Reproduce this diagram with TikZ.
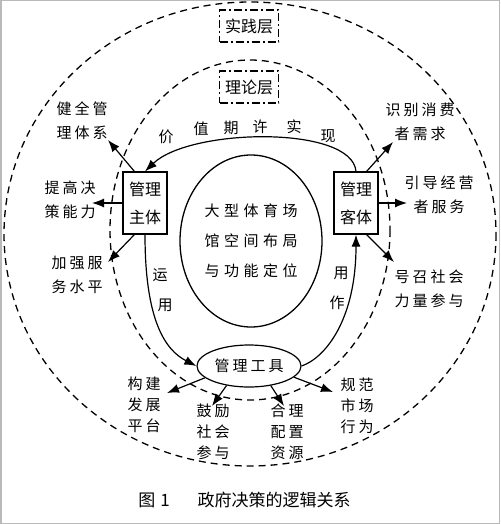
\documentclass[tikz,border=0pt]{standalone}
\usepackage{fontspec}
\newfontfamily\cjk{Noto Sans CJK SC}
\newfontfamily\cjkls[LetterSpace=20]{Noto Sans CJK SC}
\newfontfamily\cjkwide[LetterSpace=30]{Noto Sans CJK SC}
\usetikzlibrary{arrows.meta,calc,shapes.geometric}
\begin{document}
\begin{tikzpicture}[x=1pt,y=-1pt,
  lbl/.style={font=\cjkls\fontsize{15}{24}\selectfont, align=center, inner sep=0pt},
  lbl3/.style={font=\cjkls\fontsize{15}{21}\selectfont, align=center, inner sep=0pt},
  ch/.style={font=\cjk\fontsize{15}{15}\selectfont, inner sep=0pt},
  dashline/.style={line width=1.3pt, dash pattern=on 7pt off 5pt},
  dbox/.style={draw, line width=1.3pt, dash pattern=on 8pt off 3pt on 2pt off 3pt,
    minimum width=59pt, minimum height=32pt, inner sep=0pt, font=\cjk\fontsize{16}{16}\selectfont},
  sbox/.style={draw, line width=1.2pt, minimum width=44pt, minimum height=62pt, inner sep=0pt,
    align=center, font=\cjk\fontsize{16}{28}\selectfont},
  core/.style={draw, ellipse, line width=1.3pt, minimum width=142pt, minimum height=172pt,
    inner sep=0pt, align=center, font=\cjkwide\fontsize{15}{30}\selectfont},
  tool/.style={draw, ellipse, line width=1.2pt, minimum width=104pt, minimum height=42pt,
    inner sep=0pt, font=\cjkls\fontsize{15}{15}\selectfont},
  arr/.style={line width=1.2pt, -{Latex[length=12pt,width=9pt]}},
  captxt/.style={font=\cjk\fontsize{17}{17}\selectfont, inner sep=0pt}]
\useasboundingbox (0,0) rectangle (500,524);
\fill[white] (0,0) rectangle (500,524);
\draw[gray!55, line width=1.5pt] (0.75,0.75) rectangle (499.25,523.25);

% layers
\draw[dashline] (250,234) ellipse [x radius=246, y radius=232];
\draw[dashline] (250,230) ellipse [x radius=140, y radius=170];
\node[dbox] (sj) at (249,26) {实践层};
\node[dbox] (ll) at (249,87) {理论层};

% main nodes
\node[core] (core) at (251,241) {大型体育场\\馆空间布局\\与功能定位};
\node[sbox] (zt) at (145,203) {管理\\主体};
\node[sbox] (kt) at (356,203) {管理\\客体};
\node[tool] (gj) at (249,366) {管理工具};

% main cycle
\draw[arr] (kt.north) .. controls (352,125) and (190,128) .. (zt.north);
\draw[arr] (zt.south) .. controls (145,320) and (165,350) .. (gj.west);
\draw[arr] (gj.east) .. controls (325,358) and (356,320) .. (kt.south);

\node[ch] (c1) at (166,137) {价};
\node[ch] (c2) at (201,129) {值};
\node[ch] (c3) at (231,128) {期};
\node[ch] (c4) at (260,127) {许};
\node[ch] (c5) at (294,127) {实};
\node[ch] (c6) at (328,136) {现};
\node[ch] (y1) at (160,275) {运};
\node[ch] (y2) at (165,305) {用};
\node[ch] (z1) at (341,273) {用};
\node[ch] (z2) at (337,303) {作};

% labels
\node[lbl] (l1) at (82,121) {健全管\\理体系};
\node[lbl] (l2) at (70,200) {提高决\\策能力};
\node[lbl] (l3) at (77,275) {加强服\\务水平};
\node[lbl] (r1) at (420,122) {识别消费\\者需求};
\node[lbl] (r2) at (439,195) {引导经营\\者服务};
\node[lbl] (r3) at (429,289) {号召社会\\力量参与};
\node[lbl3] (b1) at (144,405) {构建\\发展\\平台};
\node[lbl3] (b2) at (213,432) {鼓励\\社会\\参与};
\node[lbl3] (b3) at (287,432) {合理\\配置\\资源};
\node[lbl3] (b4) at (357,406) {规范\\市场\\行为};

% arrow tips
\coordinate (t1) at (108,140);
\coordinate (t2) at (92,203);
\coordinate (t3) at (108,262);
\coordinate (u1) at (393,142);
\coordinate (u2) at (407,203);
\coordinate (u3) at (394,262);
\coordinate (v1) at (167,393);
\coordinate (v2) at (212,406);
\coordinate (v3) at (284,406);
\coordinate (v4) at (333,392);

\draw[arr] ($(zt.north west)+(12,0)$) -- (t1);
\draw[arr] (zt.west) -- (t2);
\draw[arr] ($(zt.south west)+(12,0)$) -- (t3);
\draw[arr] ($(kt.north east)+(-12,0)$) -- (u1);
\draw[arr] (kt.east) -- (u2);
\draw[arr] ($(kt.south east)+(-12,0)$) -- (u3);
\draw[arr] (gj.195) -- (v1);
\draw[arr] (gj.221) -- (v2);
\draw[arr] (gj.318) -- (v3);
\draw[arr] (gj.346) -- (v4);

% caption
\node[captxt] (fig) at (154,500) {图\hspace{5pt}1};
\node[captxt] (cp) at (274,500) {政府决策的逻辑关系};
\end{tikzpicture}
\end{document}
